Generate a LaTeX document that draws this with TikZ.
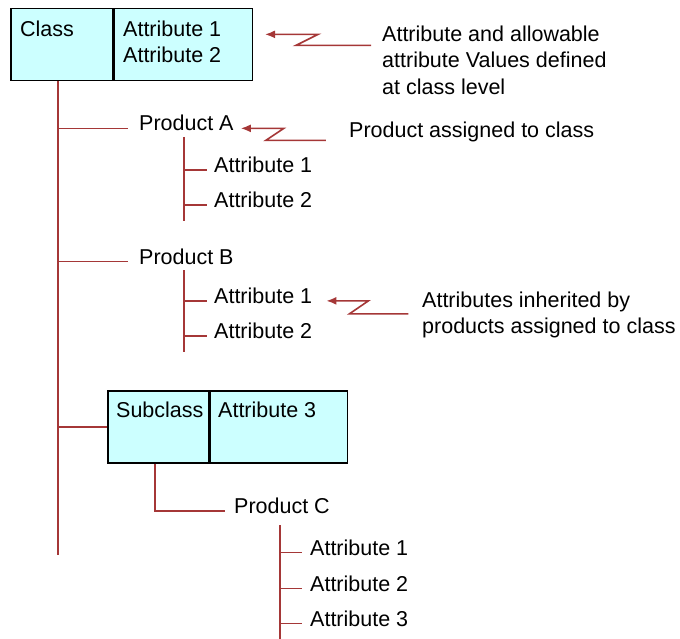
\documentclass[tikz,border=0pt]{standalone}
\usepackage{fontspec}
\setmainfont{Liberation Sans}
\usetikzlibrary{arrows.meta, positioning}
\definecolor{treered}{RGB}{165,55,55}
\definecolor{boxcyan}{RGB}{204,255,255}

\begin{document}
\begin{tikzpicture}[
x=1pt, y=-1pt,
>={Latex[length=10pt,width=8pt]},
every node/.style={font=\fontsize{21.5}{26.5}\selectfont, inner sep=0pt, anchor=base west},
tree/.style={draw=treered, line width=1.6pt},
cell/.style={draw=black, line width=1.5pt, fill=boxcyan, anchor=north west, minimum height=72pt},
note/.style={align=left, anchor=north west},
]
\useasboundingbox (0,0) rectangle (680,639);
\clip (0,0) rectangle (680,639);

% class box
\node[cell, minimum width=102pt] (cname) at (10,8) {};
\node[cell, minimum width=138pt] (cattr) at (cname.north east) {};
\node (ctext) at (20,37) {Class};
\node (ca1) at (123,37) {Attribute 1};
\node (ca2) at (123,63) {Attribute 2};

% products under class
\node (pa) at (139,131) {Product A};
\node (pa1) at (214,172.5) {Attribute 1};
\node (pa2) at (214,207.5) {Attribute 2};
\node (pb) at (139,264) {Product B};
\node (pb1) at (214,303.5) {Attribute 1};
\node (pb2) at (214,338.5) {Attribute 2};

% subclass box
\node[cell, minimum width=101pt] (sname) at (107,390) {};
\node[cell, minimum width=137pt] (sattr) at (sname.north east) {};
\node (stext) at (116,417) {Subclass};
\node (sa3) at (218,417) {Attribute 3};

\node (pc) at (234,513.5) {Product C};
\node (pc1) at (310,555) {Attribute 1};
\node (pc2) at (310,591) {Attribute 2};
\node (pc3) at (310,626) {Attribute 3};

% notes
\node[note] (n1) at (382,25.7) {Attribute and allowable\\attribute Values defined\\at class level};
\node (n2) at (349,138) {Product assigned to class};
\node[note] (n3) at (422,291.5) {Attributes inherited by\\products assigned to class};

% tree lines
\coordinate (trunk) at (58,555);
\draw[tree] (trunk |- cname.south) -- (trunk);
\draw[tree] (trunk |- pa.mid) -- ([xshift=-11pt]pa.mid west);
\draw[tree] (trunk |- pb.mid) -- ([xshift=-11pt]pb.mid west);
\draw[tree] (trunk |- sname.west) -- (sname.west);

\coordinate (pav) at (184,137);
\draw[tree] (pav) -- ++(0,84);
\draw[tree] (pav |- pa1.mid) -- ([xshift=-7pt]pa1.mid west);
\draw[tree] (pav |- pa2.mid) -- ([xshift=-7pt]pa2.mid west);

\coordinate (pbv) at (184,270);
\draw[tree] (pbv) -- ++(0,82);
\draw[tree] (pbv |- pb1.mid) -- ([xshift=-7pt]pb1.mid west);
\draw[tree] (pbv |- pb2.mid) -- ([xshift=-7pt]pb2.mid west);

\draw[tree] ([xshift=-3.5pt]sname.south) |- ([xshift=-9pt]pc.mid west);

\coordinate (pcv) at (280,525);
\draw[tree] (pcv) -- ++(0,120);
\draw[tree] (pcv |- pc1.mid) -- ([xshift=-8pt]pc1.mid west);
\draw[tree] (pcv |- pc2.mid) -- ([xshift=-8pt]pc2.mid west);
\draw[tree] (pcv |- pc3.mid) -- ([xshift=-8pt]pc3.mid west);

% zigzag pointers
\draw[tree,<-] ([xshift=12pt]cattr.east |- ca1.mid) -- ++(53,0) -- ++(-22,11) -- ++(75,0);
\draw[tree,<-] ([xshift=7pt]pa.mid east) -- ++(43,0) -- ++(-18,12) -- ++(60,0);
\draw[tree,<-] ([xshift=14pt]pb1.mid east) -- ++(42,0) -- ++(-19,13) -- ++(59,0);
\end{tikzpicture}
\end{document}
